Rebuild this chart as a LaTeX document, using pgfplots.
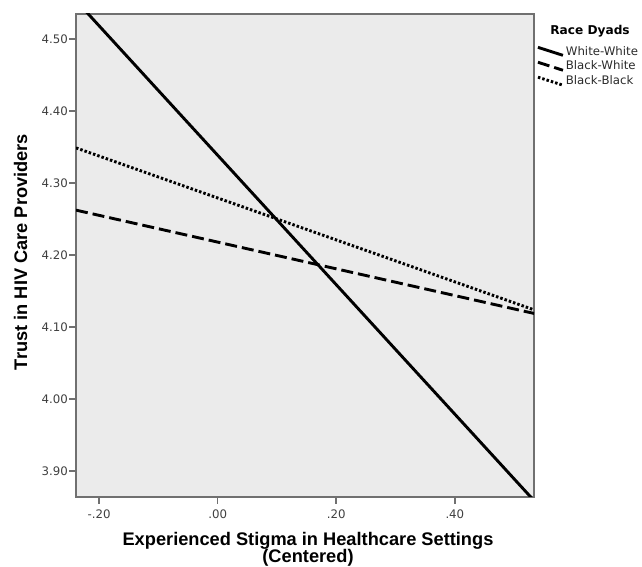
\documentclass[border=0pt]{standalone}
\usepackage{pgfplots}
\pgfplotsset{compat=1.18}
\usepackage{fontspec}
\setmainfont{Liberation Sans}
\newfontfamily\dv{DejaVu Sans}
\definecolor{bgc}{HTML}{EBEBEB}
\definecolor{framec}{HTML}{707070}
\definecolor{tickc}{HTML}{404040}
\definecolor{legc}{HTML}{2A2A2A}
\begin{document}
\begin{tikzpicture}[x=1bp,y=1bp]
\path[use as bounding box] (0,0) rectangle (642,567);
\begin{axis}[
  at={(76bp,70bp)}, anchor=south west,
  width=458bp, height=483bp, scale only axis,
  xmin=-0.2389, xmax=0.5335, ymin=3.864, ymax=4.535,
  axis background/.style={fill=bgc},
  axis line style={draw=framec, line width=1.7bp},
  tick style={draw=framec, line width=1.6bp},
  tick align=outside, major tick length=7bp,
  xtick pos=left, ytick pos=left,
  xtick={-0.2,0,0.2,0.4},
  xticklabels={-.20,.00,.20,.40},
  ytick={3.9,4.0,4.1,4.2,4.3,4.4,4.5},
  yticklabels={3.90,4.00,4.10,4.20,4.30,4.40,4.50},
  ticklabel style={font=\dv\fontsize{11.8}{12}\selectfont, text=tickc},
  xticklabel style={inner sep=1bp, yshift=-5bp},
  yticklabel style={inner sep=1bp},
  legend style={at={(1.005,0.937)}, anchor=north west, draw=none, fill=none,
    inner sep=0pt, row sep=1.5bp, font=\dv\fontsize{11.8}{13}\selectfont, text=legc,
    nodes={inner sep=1.5bp}},
  legend cell align=left,
  legend image code/.code={\draw[#1] (0bp,4bp) -- (25bp,-4bp);},
]
\addplot[black, line width=2.9bp] coordinates {(-0.2389,4.5536) (0.5335,3.859)};
\addlegendentry{White-White}
\addplot[black, line width=2.9bp, dash pattern=on 12bp off 5bp] coordinates {(-0.2389,4.2625) (0.5335,4.119)};
\addlegendentry{Black-White}
\addplot[black, line width=2.9bp, dash pattern=on 2.5bp off 2bp] coordinates {(-0.2389,4.349) (0.5335,4.124)};
\addlegendentry{Black-Black}
\end{axis}
\node[anchor=base, font=\dv\bfseries\fontsize{12.2}{13}\selectfont] at (590,532) {Race Dyads};
\node[anchor=base, font=\bfseries\fontsize{18.3}{20}\selectfont] at (308,21.8) {Experienced Stigma in Healthcare Settings};
\node[anchor=base, font=\bfseries\fontsize{18.3}{20}\selectfont] at (308,4.6) {(Centered)};
\node[anchor=base, rotate=90, font=\bfseries\fontsize{18.3}{20}\selectfont] at (27,315) {Trust in HIV Care Providers};
\end{tikzpicture}
\end{document}
